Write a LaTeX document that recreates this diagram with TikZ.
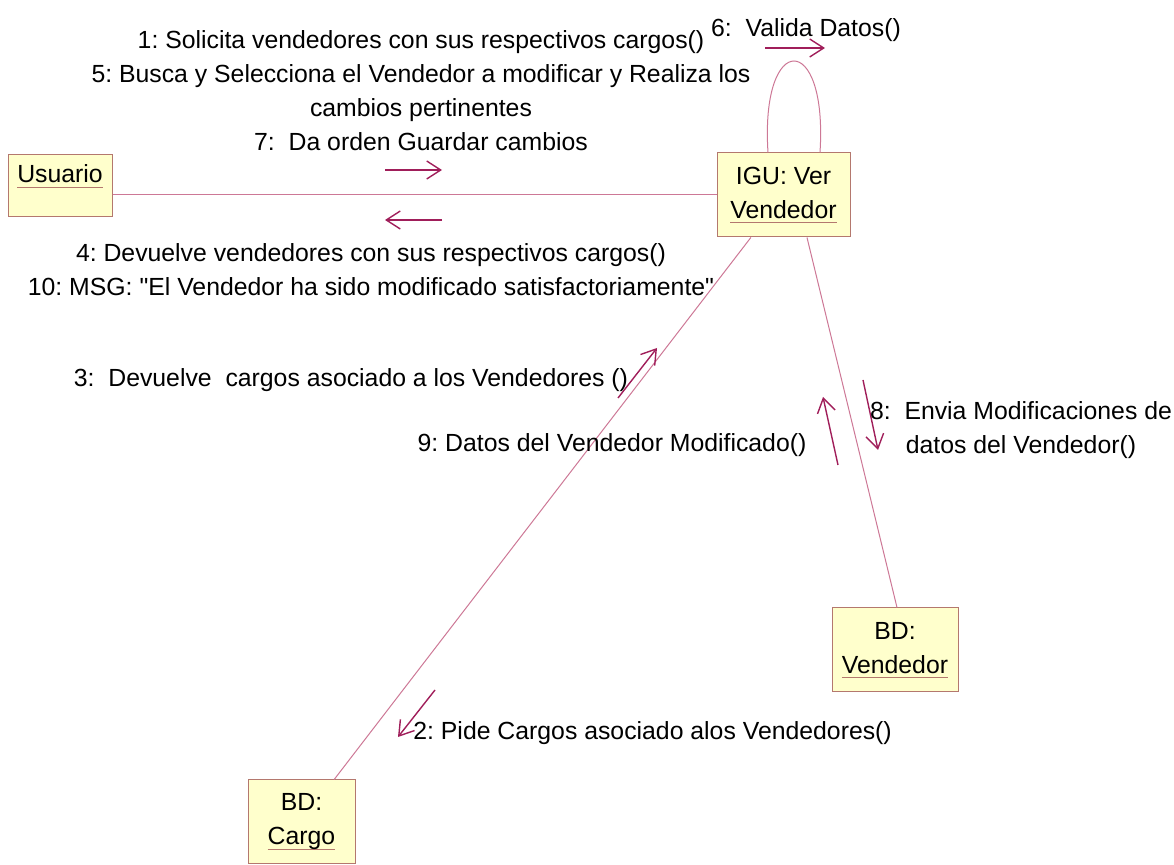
\documentclass[tikz,border=0pt]{standalone}
\usepackage{fontspec}
\setmainfont{Liberation Sans}
\newfontfamily\diagfont{Liberation Sans}
\usetikzlibrary{arrows.meta}
\frenchspacing
\definecolor{obj_yellow}{RGB}{255,255,204}
\definecolor{obj_brown}{RGB}{180,120,110}
\definecolor{link_pink}{RGB}{205,120,150}
\definecolor{msg_red}{RGB}{160,30,90}
\newcommand{\objname}[1]{\setbox0\hbox{#1}\rlap{\color{obj_brown}\rule[-2.5pt]{\wd0}{0.6pt}}\box0}
\tikzstyle{obj}=[rectangle,fill=obj_yellow,draw=obj_brown,line width=0.5pt,
  inner sep=0pt,align=center,font=\diagfont\fontsize{12.4}{17}\selectfont]
\tikzstyle{lnk}=[draw=link_pink,line width=0.5pt]
\tikzstyle{msg}=[draw=msg_red,line width=0.7pt,-{Straight Barb[length=7pt,width=9pt]}]
\tikzstyle{lbl}=[inner sep=0pt,align=center,font=\diagfont\fontsize{12.4}{17}\selectfont]
\tikzstyle{none}=[]

\begin{document}
\begin{tikzpicture}[x=0.5pt,y=-0.5pt]
        \useasboundingbox (0,0) rectangle (1174,865);
        \node [style=obj,minimum width=52pt,minimum height=31pt,text height=14pt,text depth=17pt] (0) at (60,186) {\objname{Usuario}};
        \node [style=obj,minimum width=66.5pt,minimum height=42pt] (1) at (783.5,195) {IGU: Ver\\\objname{Vendedor}};
        \node [style=obj,minimum width=63pt,minimum height=42pt] (2) at (895,650) {BD:\\\objname{Vendedor}};
        \node [style=obj,minimum width=53.5pt,minimum height=42pt] (3) at (301.5,822) {BD:\\\objname{Cargo}};
        \draw [style=lnk] (0.east |- 1) to (1.west);
        \draw [style=lnk] (1) to (3);
        \draw [style=lnk] ([xshift=11.75pt]1.south) to ([xshift=1pt]2.north);
        \draw [style=lnk] ([xshift=-7.75pt]1.north) .. controls +(-8,-122) and +(8,-122) .. ([xshift=18.25pt]1.north);
        \coordinate (4) at (765,48);
        \coordinate (5) at (825,48);
        \coordinate (6) at (385,170);
        \coordinate (7) at (442,170);
        \coordinate (8) at (442,220);
        \coordinate (9) at (385,220);
        \coordinate (10) at (618,398);
        \coordinate (11) at (657,348);
        \coordinate (12) at (838,465);
        \coordinate (13) at (823,397);
        \coordinate (14) at (863,380);
        \coordinate (15) at (878,450);
        \coordinate (16) at (435,690);
        \coordinate (17) at (398,737);
        \draw [style=msg] (4) to (5);
        \draw [style=msg] (6) to (7);
        \draw [style=msg] (8) to (9);
        \draw [style=msg] (10) to (11);
        \draw [style=msg] (12) to (13);
        \draw [style=msg] (14) to (15);
        \draw [style=msg] (16) to (17);
        \node [style=lbl] (18) at (421,91) {1: Solicita vendedores con sus respectivos cargos()\\5: Busca y Selecciona el Vendedor a modificar y Realiza los\\cambios pertinentes\\7:~ Da orden Guardar cambios};
        \node [style=lbl] (19) at (806,30) {6:~ Valida Datos()};
        \node [style=lbl] (20) at (371,270) {4: Devuelve vendedores con sus respectivos cargos()\\10: MSG: "El Vendedor ha sido modificado satisfactoriamente"};
        \node [style=lbl] (21) at (351,380) {3:~ Devuelve~ cargos asociado a los Vendedores ()};
        \node [style=lbl] (22) at (612,445) {9: Datos del Vendedor Modificado()};
        \node [style=lbl] (23) at (1021,430) {8:~ Envia Modificaciones de\\datos del Vendedor()};
        \node [style=lbl,anchor=west] (24) at (413,733) {2: Pide Cargos asociado alos Vendedores()};
    \end{tikzpicture}
\end{document}
